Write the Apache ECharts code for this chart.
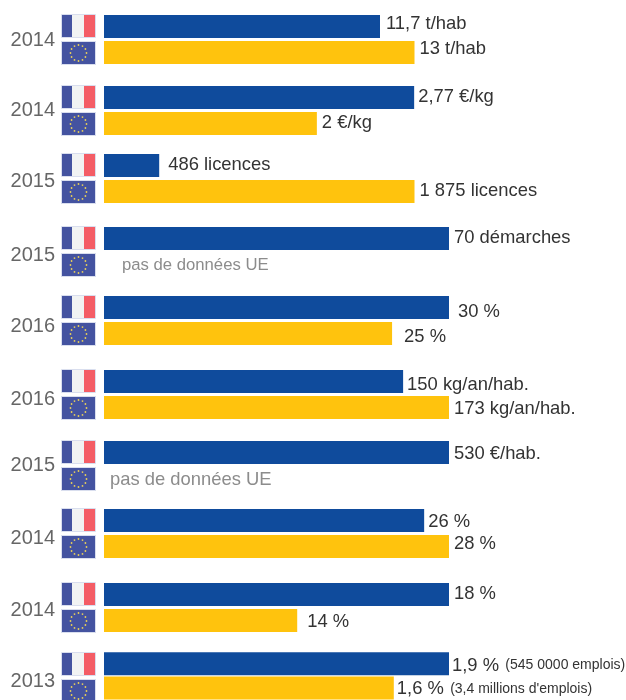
<!DOCTYPE html>
<html><head><meta charset="utf-8">
<style>html,body{margin:0;padding:0;background:#fff;overflow:hidden}#c{width:626px;height:700px}</style>
<script src="https://cdn.jsdelivr.net/npm/echarts@6/dist/echarts.min.js"></script>
</head><body><div id="c"></div>
<script>
const years = ['2014','2014','2015','2015','2016','2016','2015','2014','2014','2013'];
const franceLengths = [80,89.9,16,100,100,86.7,100,92.8,100,100];
const euLengths = [90,61.7,90,null,83.5,100,null,100,56,84];
const franceLabels = ['11,7 t/hab','2,77 €/kg','486 licences','70 démarches','30 %','150 kg/an/hab.','530 €/hab.','26 %','18 %','1,9 %'];
const euLabels = ['13 t/hab','2 €/kg','1 875 licences','pas de données UE','25 %','173 kg/an/hab.','pas de données UE','28 %','14 %','1,6 %'];
const franceNotes = ['','','','','','','','','','(545 0000 emplois)'];
const euNotes = ['','','','','','','','','','(3,4 millions d\'emplois)'];

// Layout
const groupTops = [15,86,154,227,296,370,441,509,583,653];
const frDist = [6,4,9,5,9,4,5,4,5,3];
const euDist = [5,5,5,18,12,5,6,5,10,3];
const frDy = [-3,-1,-1,-1,4,3,1,1,-1,2];
const euDy = [-4,-1,-1,1,3,1,1,-3,1,1];
const yearDy = [25,24,27,28,30,29,24,29,27,28];
const grayStyle = ['m','m','m','g','m','m','h','m','m','m'];

const grids=[],xAxes=[],yAxes=[],series=[],graphics=[];
const FR='#0f4b9c',EU='#ffc30d',FB='#4453a0',FW='#f1f3f3',FRR='#f45d66',EDGE='#d9deee';

function label(txt,note,dist,dy,style){
  return {show:true,position:'right',distance:dist,offset:[0,dy],
    formatter:note?`{m|${txt}} {n|${note}}`:`{${style}|${txt}}`,
    rich:{m:{fontFamily:'Liberation Sans',fontSize:18.4,color:'#333'},
          n:{fontFamily:'Liberation Sans',fontSize:14,color:'#333',padding:[0,0,0,3]},
          g:{fontFamily:'Liberation Sans',fontSize:16.7,color:'#8c8c8c'},
          h:{fontFamily:'Liberation Sans',fontSize:18.4,color:'#8c8c8c'}}};
}
years.forEach((yr,i)=>{
  const top=groupTops[i];
  grids.push({left:104,width:345,top:top-1.5,height:52,containLabel:false});
  xAxes.push({gridIndex:i,type:'value',min:0,max:100,show:false});
  yAxes.push({gridIndex:i,type:'category',inverse:true,data:['France','UE'],
    axisLine:{show:false},axisTick:{show:false},axisLabel:{show:false},splitLine:{show:false}});
  series.push({type:'bar',xAxisIndex:i,yAxisIndex:i,barWidth:23,silent:true,animation:false,
    data:[
      {value:franceLengths[i],itemStyle:{color:FR},label:label(franceLabels[i],franceNotes[i],frDist[i],frDy[i],'m')},
      {value:euLengths[i]===null?0:euLengths[i],itemStyle:{color:EU},label:label(euLabels[i],euNotes[i],euDist[i],euDy[i],grayStyle[i])}
    ]});
  // Year
  graphics.push({type:'text',x:55,y:top+yearDy[i],silent:true,
    style:{text:yr,fontFamily:'Liberation Sans',fontSize:20,fill:'#666',align:'right',verticalAlign:'middle'}});
  // French flag
  const fy=top-1;
  graphics.push(
    {type:'rect',shape:{x:61.5,y:fy+.5,width:34,height:23},style:{fill:FW,stroke:EDGE,lineWidth:1},silent:true},
    {type:'rect',shape:{x:62,y:fy+1,width:10,height:22},style:{fill:FB},silent:true},
    {type:'rect',shape:{x:84,y:fy+1,width:11,height:22},style:{fill:FRR},silent:true});
  // EU flag
  const ey=top+26;
  graphics.push({type:'rect',shape:{x:61.5,y:ey+.5,width:34,height:23},style:{fill:FB,stroke:EDGE,lineWidth:1},silent:true});
  for(let s=0;s<12;s++){
    const a=s*Math.PI/6;
    graphics.push({type:'circle',shape:{cx:78.5+8*Math.cos(a),cy:ey+12+8*Math.sin(a),r:0.9},style:{fill:'#e8cf5a'},silent:true});
  }
});
const chart=echarts.init(document.getElementById('c'),null,{renderer:'canvas'});
chart.setOption({animation:false,backgroundColor:'#fff',grid:grids,xAxis:xAxes,yAxis:yAxes,series:series,graphic:{elements:graphics}});
</script></body></html>
